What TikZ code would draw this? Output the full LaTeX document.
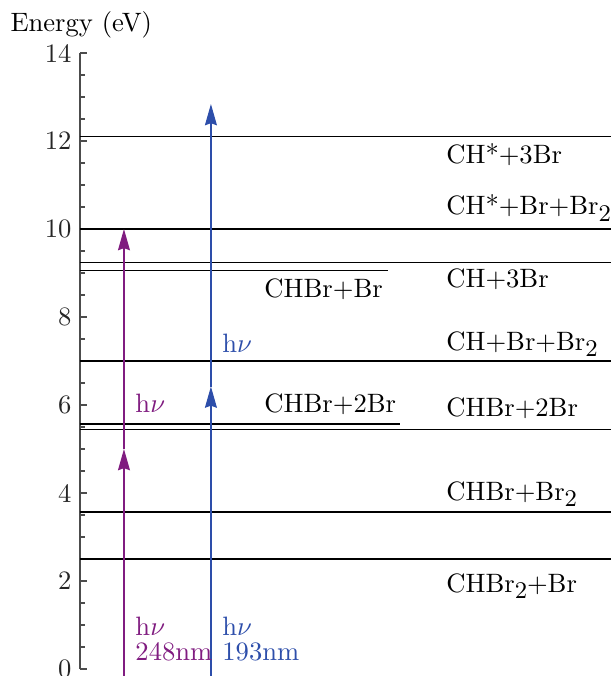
\documentclass[tikz,border=0pt]{standalone}
\usepackage{tikz}
\usetikzlibrary{arrows.meta,positioning,calc}
\definecolor{pumppurple}{RGB}{128,28,128}
\definecolor{pumpblue}{RGB}{45,78,170}
\newcommand{\subtwo}{\raisebox{-2.4pt}{\small 2}}
\tikzset{
  levelline/.style={draw=black, line width=0.45pt},
  axisline/.style={draw=black!70, line width=0.4pt},
  levellabel/.style={anchor=base west, inner sep=0pt},
  ticklabel/.style={anchor=east, inner sep=0pt, text=black!85},
  pumpsteps/.style={line width=0.5pt, -{Stealth[length=8pt,width=4.5pt,inset=0.8pt]}},
  purplearrow/.style={pumpsteps, draw=pumppurple},
  bluearrow/.style={pumpsteps, draw=pumpblue},
  purplelabel/.style={levellabel, text=pumppurple, align=left},
  bluelabel/.style={levellabel, text=pumpblue, align=left}
}

\begin{document}
\begin{tikzpicture}[x=0.376pt, y=16.55pt]
\useasboundingbox (-80,-0.159) rectangle (531,15.205);

% energy axis
\draw[axisline] (0,14) -- (0,0);
\foreach \e in {0,2,...,14} {
  \draw[axisline] (0,\e) -- (7.5,\e);
  \node[ticklabel] (tick\e) at (-8,\e) {\e};
}
\foreach \e in {0.5,1,...,13.5} {
  \draw[axisline] (0,\e) -- (5,\e);
}
\node[levellabel] (axistitle) at (-70,14.48) {Energy (eV)};

% dissociation limits
\foreach \e in {12.1,10,9.23,7,5.45,3.57,2.5} {
  \draw[levelline] (0,\e) -- (531,\e);
}
\draw[levelline] (0,9.05) -- (308,9.05);
\draw[levelline] (0,5.57) -- (320,5.57);

\node[levellabel] (chstar3) at (366,11.50) {CH*+3Br};
\node[levellabel] (chstarbr) at (366,10.32) {CH*+Br+Br\subtwo};
\node[levellabel] (ch3) at (366,8.66) {CH+3Br};
\node[levellabel] (chbr) at (366,7.25) {CH+Br+Br\subtwo};
\node[levellabel] (chbr2br) at (366,5.73) {CHBr+2Br};
\node[levellabel] (chbrbr2) at (366,3.84) {CHBr+Br\subtwo};
\node[levellabel] (chbr2) at (366,1.75) {CHBr\subtwo+Br};
\node[levellabel] (chbrbr) at (184,8.45) {CHBr+Br};
\node[levellabel] (chbrtwobr) at (184,5.82) {CHBr+2Br};

% photon steps
\coordinate (purple0) at (44,-0.2);
\coordinate (purple1) at (44,5);
\coordinate (purple2) at (44,10);
\coordinate (blue0) at (131,-0.2);
\coordinate (blue1) at (131,6.42);
\coordinate (blue2) at (131,12.84);
\draw[purplearrow] (purple0) -- (purple1);
\draw[purplearrow] (purple1) -- (purple2);
\draw[bluearrow] (blue0) -- (blue1);
\draw[bluearrow] (blue1) -- (blue2);

\node[purplelabel] (purplemid) at (55,5.82) {h$\nu$};
\node[bluelabel] (bluemid) at (142,7.20) {h$\nu$};
\node[purplelabel] (purplehv) at (55,0.77) {h$\nu$};
\node[purplelabel] (purplenm) at (55,0.20) {248nm};
\node[bluelabel] (bluehv) at (142,0.77) {h$\nu$};
\node[bluelabel] (bluenm) at (142,0.20) {193nm};
\end{tikzpicture}
\end{document}
